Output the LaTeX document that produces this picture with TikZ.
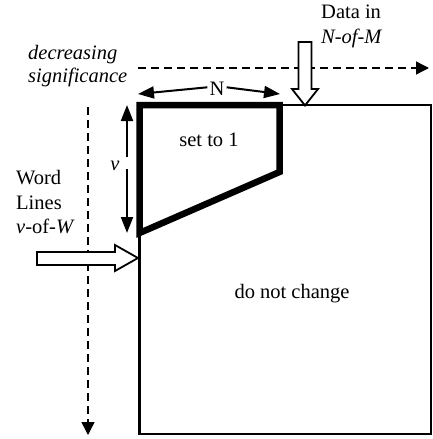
\documentclass[tikz,border=0pt]{standalone}
\usepackage{fontspec}
\setmainfont{Liberation Serif}
\usetikzlibrary{arrows.meta}
\begin{document}
\begin{tikzpicture}[x=1pt,y=-1pt,
  txt/.style={inner sep=0pt,font=\fontsize{20.5}{25}\selectfont},
  tip/.style={line width=2pt,-{Triangle[length=16pt,width=12pt]}},
  dashline/.style={line width=1.4pt,dash pattern=on 8pt off 5pt},
  blockarrow/.style={draw,line width=1.8pt,fill=white,line join=miter}]
\useasboundingbox (0,0) rectangle (433,439);
% main matrix
\coordinate (tl) at (139.5,105);
\coordinate (br) at (431,434);
\draw[line width=2.2pt] (tl) rectangle (br);
% set-to-1 region
\coordinate (nr) at (279.5,105);
\coordinate (rb) at (279.5,172);
\coordinate (lb) at (139.5,233);
\draw[line width=6.5pt,line join=miter] (tl) -- (nr) -- (rb) -- (lb) -- cycle;
% dashed significance arrows
\coordinate (hs) at (138,68);
\coordinate (he) at (429,68);
\draw[dashline,-{Triangle[length=13pt,width=13pt]}] (hs) -- (he);
\coordinate (vs) at (88,107);
\coordinate (ve) at (88,435);
\draw[dashline,-{Triangle[length=13pt,width=13pt]}] (vs) -- (ve);
% N arrow
\node[txt,anchor=base] (N) at (217,95) {N};
\coordinate (nl) at (138,94);
\coordinate (nrr) at (280,94);
\draw[tip] (N.west) ++(-2,-1) coordinate (nlg) -- (nl);
\draw[tip] (N.east) ++(2,-1) coordinate (nrg) -- (nrr);
% v arrow
\node[txt,anchor=base,font=\fontsize{20.5}{25}\selectfont\itshape] (v) at (115,170) {v};
\coordinate (vt) at (127,105);
\coordinate (vb) at (127,233);
\coordinate (vg1) at (127,157);
\coordinate (vg2) at (127,169);
\draw[tip] (vg1) -- (vt);
\draw[tip] (vg2) -- (vb);
% data-in block arrow
\draw[blockarrow] (298.5,42) -- (311.5,42) -- (311.5,89) -- (318,89) -- (305,105.5)
  -- (292,89) -- (298.5,89) -- cycle;
% word lines block arrow
\draw[blockarrow] (37,252) -- (115,252) -- (115,245) -- (138,258) -- (115,271)
  -- (115,265) -- (37,265) -- cycle;
% texts
\node[txt,anchor=base west] (data) at (321,19) {Data in};
\node[txt,anchor=base west] (nofm) at (321,43) {\itshape N-of-M};
\node[txt,anchor=base west] (dec) at (28,59) {\itshape decreasing};
\node[txt,anchor=base west] (sig) at (28,82) {\itshape significance};
\node[txt,anchor=base west] (word) at (16,184) {Word};
\node[txt,anchor=base west] (lines) at (16,209) {Lines};
\node[txt,anchor=base west] (vofw) at (16,233) {\textit{v}-of-\textit{W}};
\node[txt,anchor=base] (set) at (209,146) {set to 1};
\node[txt,anchor=base] (dnc) at (292,298) {do not change};
\end{tikzpicture}
\end{document}
